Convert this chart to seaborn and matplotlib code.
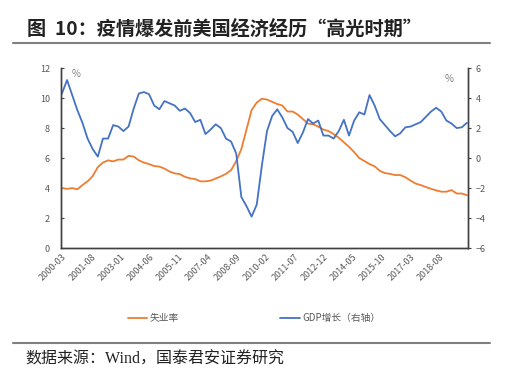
import numpy as np
import pandas as pd
import seaborn as sns
import matplotlib.pyplot as plt

# quarterly samples, 2000-03 .. 2019-12
dates = pd.date_range('2000-03-01', '2019-12-01', freq='3MS')
unemployment = [4.0, 3.95, 4.0, 3.92, 4.2, 4.45, 4.8, 5.4, 5.7, 5.85,
                5.78, 5.9, 5.9, 6.15, 6.1, 5.85, 5.7, 5.6, 5.47, 5.43,
                5.3, 5.1, 4.98, 4.93, 4.75, 4.65, 4.6, 4.45, 4.45, 4.5,
                4.64, 4.78, 4.95, 5.2, 5.8, 6.6, 7.9, 9.2, 9.7, 9.95,
                9.9, 9.75, 9.6, 9.5, 9.1, 9.1, 8.9, 8.6, 8.3, 8.25,
                8.1, 7.9, 7.8, 7.6, 7.35, 7.05, 6.75, 6.4, 6.0, 5.8,
                5.6, 5.45, 5.15, 5.0, 4.95, 4.87, 4.87, 4.72, 4.5, 4.3,
                4.2, 4.07, 3.95, 3.85, 3.76, 3.76, 3.87, 3.64, 3.64, 3.53]
gdp = [4.3, 5.2, 4.2, 3.2, 2.35, 1.3, 0.6, 0.1, 1.3, 1.3,
       2.2, 2.1, 1.8, 2.1, 3.3, 4.3, 4.4, 4.25, 3.5, 3.25,
       3.8, 3.65, 3.5, 3.15, 3.3, 3.0, 2.4, 2.55, 1.6, 1.9,
       2.25, 2.0, 1.3, 1.1, 0.3, -2.6, -3.2, -3.9, -3.1, -0.5,
       1.8, 2.8, 3.25, 2.7, 2.0, 1.75, 1.0, 1.7, 2.6, 2.3,
       2.5, 1.5, 1.5, 1.3, 1.8, 2.55, 1.5, 2.5, 3.05, 2.9,
       4.2, 3.5, 2.6, 2.2, 1.8, 1.45, 1.65, 2.05, 2.1, 2.25,
       2.4, 2.75, 3.1, 3.35, 3.1, 2.5, 2.3, 2.0, 2.05, 2.35]
tick_labels = ['2000-03', '2001-08', '2003-01', '2004-06', '2005-11', '2007-04',
               '2008-09', '2010-02', '2011-07', '2012-12', '2014-05', '2015-10',
               '2017-03', '2018-08']

def month_idx(d):
    d = pd.Timestamp(d)
    return (d.year - 2000) * 12 + d.month - 3

df = pd.DataFrame({'m': [month_idx(d) for d in dates],
                   'unemp': unemployment, 'gdp': gdp})

sns.set_theme(style="white")
plt.rcParams['font.family'] = ['Noto Sans CJK SC', 'DejaVu Sans']
serif_cjk = ['Liberation Serif', 'Noto Sans CJK SC']

orange = '#ED7D31'
blue = '#4472C4'
grey = '#595959'

fig = plt.figure(figsize=(5.09, 3.80), dpi=100)
ax = fig.add_axes([0.120, 0.347, 0.799, 0.474])
ax2 = ax.twinx()

sns.lineplot(data=df, x='m', y='unemp', ax=ax, color=orange, linewidth=1.3)
sns.lineplot(data=df, x='m', y='gdp', ax=ax2, color=blue, linewidth=1.3)

ax.set_xlim(-0.5, 237.5)
ax.set_ylim(0, 12)
ax.set_yticks(range(0, 13, 2))
ax2.set_ylim(-6, 6)
ax2.set_yticks(range(-6, 7, 2))
ax.set_xticks([month_idx(t) for t in tick_labels])
ax.set_xticklabels(tick_labels, rotation=45, ha='right', rotation_mode='anchor')
ax.set_xlabel('')
ax.set_ylabel('')
ax2.set_ylabel('')

for a in (ax, ax2):
    for s in a.spines.values():
        s.set_color('#404040')
        s.set_linewidth(1.0)
    a.spines['top'].set_visible(False)
    a.tick_params(labelsize=6.5, labelcolor=grey, colors='#404040', length=2.5, width=0.8)
ax.tick_params(axis='x', length=0, pad=3)
ax.tick_params(axis='y', direction='in', pad=8)
ax2.tick_params(axis='y', direction='out', pad=3)
ax2.grid(False)
ax.grid(False)

ax.text(0.025, 0.995, '%', transform=ax.transAxes, fontsize=7, color='#808080', va='top')
ax2.text(0.965, 0.965, '%', transform=ax2.transAxes, fontsize=7, color='#808080', va='top', ha='right')

# legend
fig.lines.append(plt.Line2D([128 / 509, 147 / 509], [1 - 318 / 380] * 2, color=orange, lw=1.3, transform=fig.transFigure))
fig.text(150 / 509, 1 - 318 / 380, '失业率', fontsize=7, color=grey, va='center')
fig.lines.append(plt.Line2D([280 / 509, 300 / 509], [1 - 318 / 380] * 2, color=blue, lw=1.3, transform=fig.transFigure))
fig.text(302 / 509, 1 - 318 / 380, 'GDP增长（右轴）', fontsize=7, color=grey, va='center')

# title, rules and source
fig.text(27 / 509, 1 - 29 / 380, '图  10：疫情爆发前美国经济经历“高光时期”', fontsize=13.8,
         fontweight='bold', color='#222222', va='center')
for yy in (43, 343):
    fig.lines.append(plt.Line2D([13 / 509, 490 / 509], [1 - yy / 380] * 2, color='#808080', lw=1.5,
                                transform=fig.transFigure))
fig.text(25 / 509, 1 - 360 / 380, '数据来源：Wind，国泰君安证券研究', fontsize=11.5, color='#222222',
         va='center', family=serif_cjk)

plt.savefig('out.png', dpi=100)
